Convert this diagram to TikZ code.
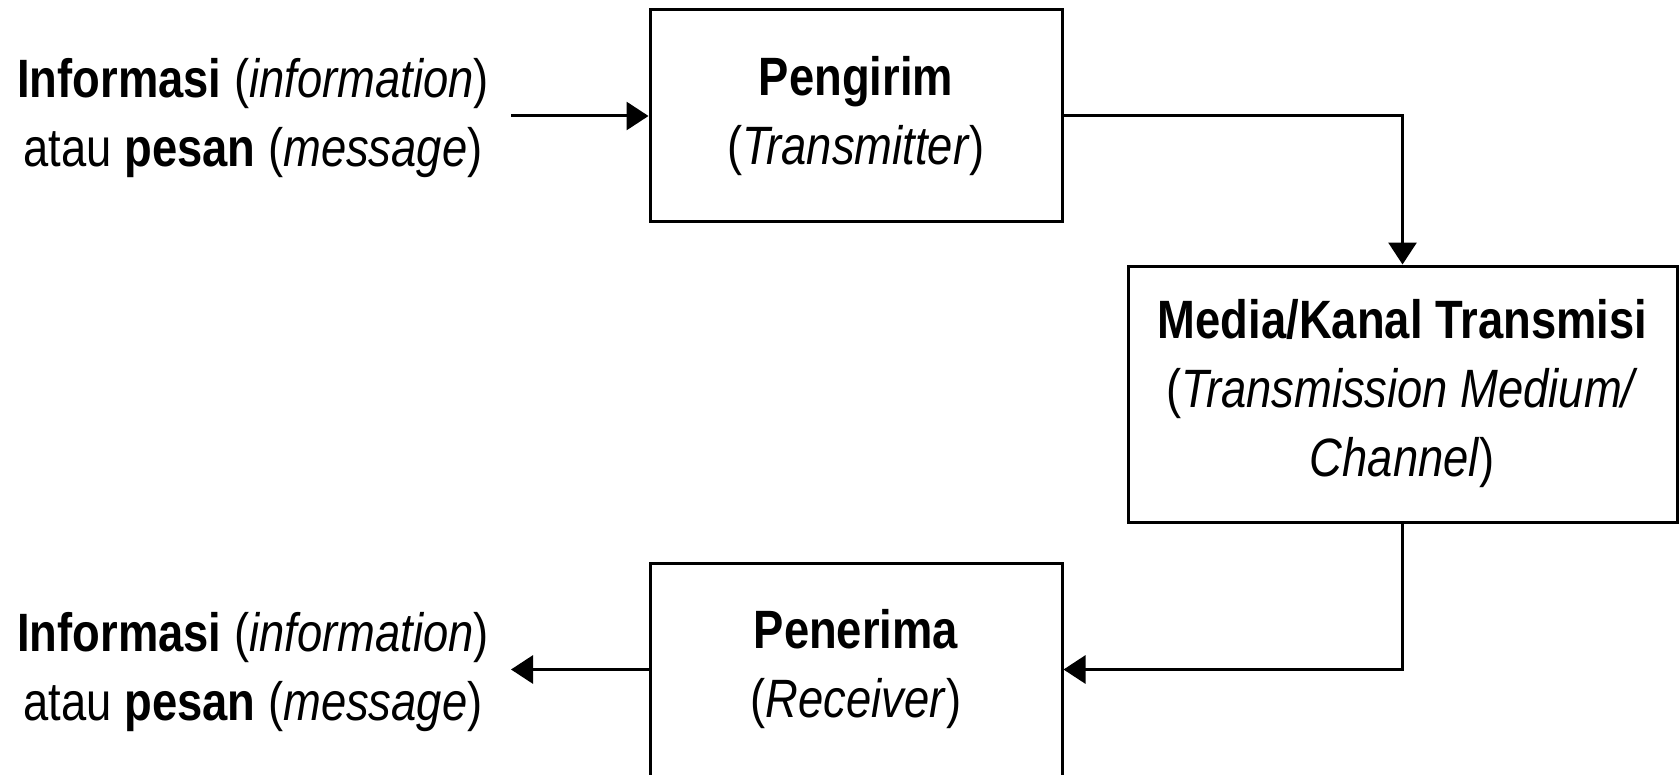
\documentclass[tikz,border=0pt]{standalone}
\usepackage{fontspec}
\setmainfont{Liberation Sans}[FakeStretch=0.84]
\usetikzlibrary{arrows.meta}
\tikzset{
  box/.style={draw, line width=1.5pt, align=center, inner sep=0pt,
    font=\fontsize{27}{34.5}\selectfont},
  lbl/.style={align=center, inner sep=0pt, font=\fontsize{27}{34.5}\selectfont},
  conn/.style={line width=1.5pt, -{Triangle[length=11pt,width=14pt]}}
}
\begin{document}
\begin{tikzpicture}[x=0.5pt,y=-0.5pt]
\useasboundingbox (0,0) rectangle (1679,775);
\node[box, minimum width=206pt, minimum height=106pt] (tx) at (856,116)
  {\textbf{Pengirim}\\(\textit{Transmitter})};
\node[box, minimum width=274.5pt, minimum height=128pt] (med) at (1402.5,394)
  {\textbf{Media/Kanal Transmisi}\\(\textit{Transmission Medium/}\\\textit{Channel})};
\node[box, minimum width=206pt, minimum height=106.5pt] (rx) at (856,669.5)
  {\textbf{Penerima}\\(\textit{Receiver})};
\node[lbl] (in) at (253,118)
  {\textbf{Informasi} (\textit{information})\\atau \textbf{pesan} (\textit{message})};
\node[lbl] (out) at (253,672)
  {\textbf{Informasi} (\textit{information})\\atau \textbf{pesan} (\textit{message})};
\coordinate (a) at (511,116);
\coordinate (b) at (511,669.5);
\draw[conn] (a) -- (tx.west);
\draw[conn] (tx.east) -| (med.north);
\draw[conn] (med.south) |- (rx.east);
\draw[conn] (rx.west) -- (b);
\end{tikzpicture}
\end{document}
